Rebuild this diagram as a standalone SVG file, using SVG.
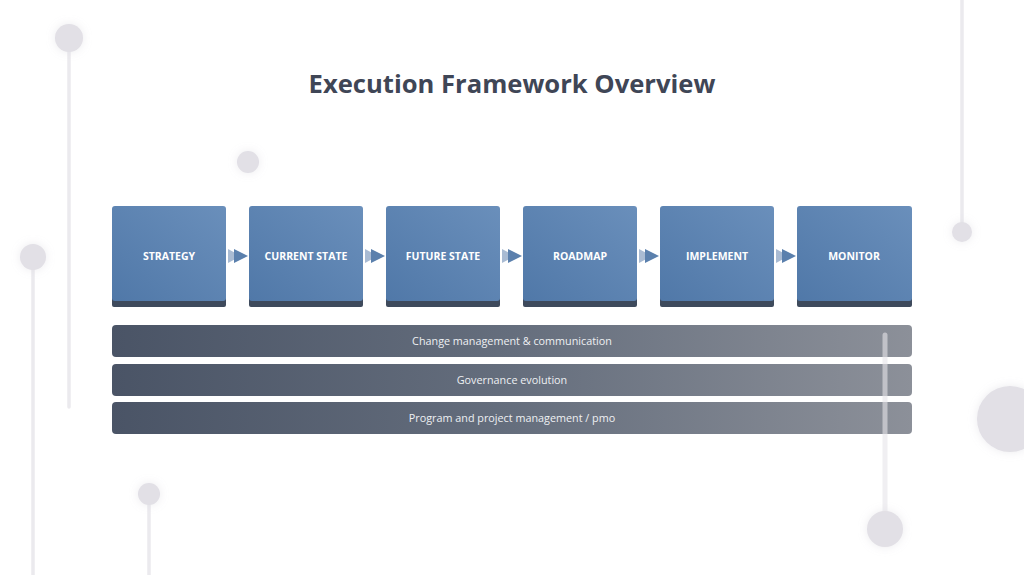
<svg xmlns="http://www.w3.org/2000/svg" width="1024" height="575" viewBox="0 0 1024 575">
<style>
.deco-line{stroke:#ebeaee;stroke-width:3.5;stroke-linecap:round}
.deco-dot{fill:#e2e0e6;filter:url(#glow)}
.box{fill:url(#boxGrad)}
.base{fill:#3e4a5c}
.step{font-family:"Open Sans","Noto Sans","Liberation Sans",sans-serif;font-size:10.5px;font-weight:700;fill:#ffffff;text-anchor:middle}
.bar{fill:url(#barGrad)}
.bartxt{font-family:"Open Sans","Noto Sans","Liberation Sans",sans-serif;font-size:10.8px;fill:#eef0f3;text-anchor:middle}
.arr-light{fill:#a9bbd3}
.arr-dark{fill:#5b80ad}
</style>
<defs>
<linearGradient id="boxGrad" x1="0" y1="1" x2="1" y2="0">
<stop offset="0" stop-color="#5078a8"/>
<stop offset="1" stop-color="#6a8fbb"/>
</linearGradient>
<linearGradient id="barGrad" x1="0" y1="0" x2="1" y2="0">
<stop offset="0" stop-color="#4a5466"/>
<stop offset="0.5" stop-color="#656e7d"/>
<stop offset="1" stop-color="#8c9099"/>
</linearGradient>
<filter id="glow" x="-100%" y="-100%" width="300%" height="300%">
<feGaussianBlur in="SourceAlpha" stdDeviation="5" result="b"/>
<feFlood flood-color="#d8d6de" flood-opacity="0.5"/>
<feComposite in2="b" operator="in" result="s"/>
<feMerge><feMergeNode in="s"/><feMergeNode in="SourceGraphic"/></feMerge>
</filter>
</defs>
<rect width="1024" height="575" fill="#ffffff"/>
<g id="decor-back">
<line class="deco-line" x1="69" y1="38" x2="69" y2="407"/>
<line class="deco-line" x1="33" y1="257" x2="33" y2="580"/>
<line class="deco-line" x1="149" y1="494" x2="149" y2="580"/>
<line class="deco-line" x1="962" y1="-5" x2="962" y2="232"/>
<circle class="deco-dot" cx="69" cy="38" r="14"/>
<circle class="deco-dot" cx="248" cy="162" r="11"/>
<circle class="deco-dot" cx="33" cy="257" r="13"/>
<circle class="deco-dot" cx="149" cy="494" r="11"/>
<circle class="deco-dot" cx="962" cy="232" r="10"/>
<circle class="deco-dot" cx="1010" cy="419" r="33"/>
</g>
<text x="512" y="93" font-family="'Open Sans','Noto Sans','Liberation Sans',sans-serif" font-size="25.6" font-weight="700" fill="#3f4656" text-anchor="middle">Execution Framework Overview</text>
<g id="connectors">
<polygon class="arr-light" points="228,249 228,263 241,256"/>
<polygon class="arr-dark" points="234,249 234,263 248,256"/>
<polygon class="arr-light" points="365,249 365,263 378,256"/>
<polygon class="arr-dark" points="371,249 371,263 385,256"/>
<polygon class="arr-light" points="502,249 502,263 515,256"/>
<polygon class="arr-dark" points="508,249 508,263 522,256"/>
<polygon class="arr-light" points="639,249 639,263 652,256"/>
<polygon class="arr-dark" points="645,249 645,263 659,256"/>
<polygon class="arr-light" points="776,249 776,263 789,256"/>
<polygon class="arr-dark" points="782,249 782,263 796,256"/>
</g>
<g id="node-strategy">
<rect class="base" x="112" y="296" width="114" height="11" rx="2"/>
<rect class="box" x="112" y="206" width="114" height="95" rx="3"/>
<text class="step" x="169" y="260">STRATEGY</text>
</g>
<g id="node-current-state">
<rect class="base" x="249" y="296" width="114" height="11" rx="2"/>
<rect class="box" x="249" y="206" width="114" height="95" rx="3"/>
<text class="step" x="306" y="260">CURRENT STATE</text>
</g>
<g id="node-future-state">
<rect class="base" x="386" y="296" width="114" height="11" rx="2"/>
<rect class="box" x="386" y="206" width="114" height="95" rx="3"/>
<text class="step" x="443" y="260">FUTURE STATE</text>
</g>
<g id="node-roadmap">
<rect class="base" x="523" y="296" width="114" height="11" rx="2"/>
<rect class="box" x="523" y="206" width="114" height="95" rx="3"/>
<text class="step" x="580" y="260">ROADMAP</text>
</g>
<g id="node-implement">
<rect class="base" x="660" y="296" width="114" height="11" rx="2"/>
<rect class="box" x="660" y="206" width="114" height="95" rx="3"/>
<text class="step" x="717" y="260">IMPLEMENT</text>
</g>
<g id="node-monitor">
<rect class="base" x="797" y="296" width="115" height="11" rx="2"/>
<rect class="box" x="797" y="206" width="115" height="95" rx="3"/>
<text class="step" x="854" y="260">MONITOR</text>
</g>
<g id="bar-change">
<rect class="bar" x="112" y="325" width="800" height="32" rx="4"/>
<text class="bartxt" x="512" y="345">Change management &amp; communication</text>
</g>
<g id="bar-governance">
<rect class="bar" x="112" y="364" width="800" height="32" rx="4"/>
<text class="bartxt" x="512" y="384">Governance evolution</text>
</g>
<g id="bar-program">
<rect class="bar" x="112" y="402" width="800" height="32" rx="4"/>
<text class="bartxt" x="512" y="422">Program and project management / pmo</text>
</g>
<g id="decor-front">
<line x1="885" y1="335" x2="885" y2="528" stroke="#e6e5ea" stroke-opacity="0.6" stroke-width="5" stroke-linecap="round"/>
<circle class="deco-dot" cx="885" cy="529" r="18"/>
</g>
</svg>
